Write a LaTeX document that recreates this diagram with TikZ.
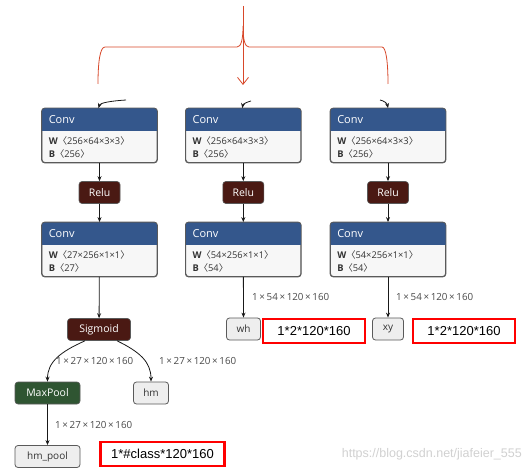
\documentclass[tikz,border=0pt]{standalone}
\usepackage{fontspec}
\setmainfont{Open Sans}
\newfontfamily\arialf{Liberation Sans}
\newfontfamily\cjkf{Noto Sans CJK SC}
\usetikzlibrary{arrows.meta}
\definecolor{hdrblue}{HTML}{34578C}
\definecolor{reluc}{HTML}{4A1913}
\definecolor{poolc}{HTML}{2F5532}
\definecolor{bodyc}{HTML}{F7F7F7}
\definecolor{outc}{HTML}{EEEEEE}
\definecolor{bordc}{HTML}{5A5A5A}
\definecolor{bracec}{HTML}{D8482A}
\definecolor{lblc}{HTML}{4A4A4A}
\newcommand{\lb}{{\cjkf 〈}}
\newcommand{\rb}{{\cjkf 〉}}
\tikzset{
  convbox/.style={draw=bordc, line width=0.8pt, fill=bodyc, rounded corners=3pt, minimum width=115pt, minimum height=54pt, inner sep=0pt},
  actbox/.style={draw=bordc, line width=0.6pt, fill=reluc, text=white, rounded corners=3pt, minimum height=22pt, inner sep=0pt, font=\fontsize{10.5}{12}\selectfont},
  poolbox/.style={actbox, fill=poolc},
  outbox/.style={draw=bordc, line width=0.8pt, fill=outc, text=black!80, rounded corners=3pt, minimum height=22pt, inner sep=0pt, font=\fontsize{10}{12}\selectfont},
  redbox/.style={draw=red, line width=2.6pt, fill=white, minimum height=24pt, inner sep=0pt, font=\arialf\fontsize{13}{15}\selectfont},
  edge/.style={-{Stealth[length=5pt,width=4pt]}, line width=0.8pt, black!90},
  elbl/.style={text=lblc, font=\fontsize{9.8}{11}\selectfont, inner sep=0pt},
  hdrtxt/.style={text=white, font=\fontsize{11}{13}\selectfont, inner sep=0pt, anchor=west},
  bodytxt/.style={text=black!80, font=\fontsize{9.3}{11}\selectfont, inner sep=0pt, anchor=west},
  brace/.style={draw=bracec, line width=0.8pt}
}
\newcommand{\convnode}[5]{%
  \node[convbox] (#1) at (#2) {};
  \begin{scope}
    \clip[rounded corners=3pt] (#1.south west) rectangle (#1.north east);
    \fill[hdrblue] (#1.north west) rectangle ([yshift=-22.5pt]#1.north east);
  \end{scope}
  \draw[bordc, line width=0.8pt, rounded corners=3pt] (#1.south west) rectangle (#1.north east);
  \node[hdrtxt] (#1h) at ([xshift=7pt,yshift=-11.5pt]#1.north west) {Conv};
  \node[bodytxt] (#1w) at ([xshift=7pt,yshift=-32.5pt]#1.north west) {\textbf{W}\lb#3\rb};
  \node[bodytxt] (#1b) at ([xshift=7pt,yshift=-46pt]#1.north west) {\textbf{B}\lb#4\rb};
}
\begin{document}
\begin{tikzpicture}[x=1pt,y=-1pt]
\useasboundingbox (0,0) rectangle (532,473);
\fill[white] (0,0) rectangle (532,473);

% red brace and arrow
\coordinate (btop) at (243,6);
\coordinate (bbot) at (243,85);
\draw[brace] (98,84) .. controls (98,62) and (100,47) .. (105,47) -- (237,47)
  .. controls (241,47) and (243,40) .. (243,26)
  .. controls (243,40) and (245,47) .. (249,47) -- (382,47)
  .. controls (386,47) and (388,62) .. (388,84);
\draw[brace, -{Straight Barb[length=7pt,width=11pt]}] (btop) -- (bbot);

% conv blocks
\convnode{ca}{99.5,135.5}{256×64×3×3}{256}{}
\convnode{cb}{243.3,135.5}{256×64×3×3}{256}{}
\convnode{cc}{388,135.5}{256×64×3×3}{256}{}

\node[actbox, minimum width=41pt] (ra) at (99.5,192.5) {Relu};
\node[actbox, minimum width=41pt] (rb) at (243.3,192.5) {Relu};
\node[actbox, minimum width=41pt] (rc) at (388,192.5) {Relu};

\convnode{da}{99.5,249.5}{27×256×1×1}{27}{}
\convnode{db}{243.3,249.5}{54×256×1×1}{54}{}
\convnode{dc}{388,249.5}{54×256×1×1}{54}{}

% small incoming arrows
\coordinate (ia) at (126,100);
\coordinate (ib) at (251,101);
\coordinate (ic) at (380,100);
\draw[edge] (ia) .. controls (110,101) and (100,103) .. ([xshift=-1pt]ca.north);
\draw[edge] (ib) .. controls (247,102) and (243,104) .. ([xshift=-1pt]cb.north);
\draw[edge] (ic) .. controls (384,101) and (387,103) .. (cc.north);

\draw[edge] (ca) -- (ra);
\draw[edge] (cb) -- (rb);
\draw[edge] (cc) -- (rc);
\draw[edge] (ra) -- (da);
\draw[edge] (rb) -- (db);
\draw[edge] (rc) -- (dc);

% heads
\node[actbox, minimum width=63pt] (sig) at (99,329.5) {Sigmoid};
\node[poolbox, minimum width=65pt] (mp) at (47.5,393) {MaxPool};
\node[outbox, minimum width=35pt] (hm) at (151,393) {hm};
\node[outbox, minimum width=65pt] (hmp) at (47.5,456.5) {hm\_pool};
\node[outbox, minimum width=34pt] (wh) at (243.5,329) {wh};
\node[outbox, minimum width=31pt] (xy) at (388,329) {xy};

\draw[edge] (da) -- (sig);
\draw[edge] (db) -- (wh);
\draw[edge] (dc) -- (xy);
\draw[edge] ([xshift=-14pt]sig.south) .. controls (60,352) and (47.5,362) .. (mp.north);
\draw[edge] ([xshift=18pt]sig.south) .. controls (140,352) and (151,362) .. (hm.north);
\draw[edge] (mp) -- (hmp);

% edge labels
\node[elbl, anchor=west] (l1) at (252,297) {1\,×\,54\,×\,120\,×\,160};
\node[elbl, anchor=west] (l2) at (396,297) {1\,×\,54\,×\,120\,×\,160};
\node[elbl, anchor=west] (l3) at (56,361) {1\,×\,27\,×\,120\,×\,160};
\node[elbl, anchor=west] (l4) at (159,361) {1\,×\,27\,×\,120\,×\,160};
\node[elbl, anchor=west] (l5) at (55,424.5) {1\,×\,27\,×\,120\,×\,160};

% red annotation boxes
\node[redbox, minimum width=102pt] (rwh) at (314,331) {1*2*120*160};
\node[redbox, minimum width=102pt] (rxy) at (464,331) {1*2*120*160};
\node[redbox, minimum width=124pt] (rcls) at (162.5,454) {1*\#class*120*160};

% watermark
\node[text=black!18, font=\arialf\fontsize{12.5}{14}\selectfont, anchor=east, inner sep=0pt] (wm) at (522,454) {https://blog.csdn.net/jiafeier\_555};
\end{tikzpicture}
\end{document}
